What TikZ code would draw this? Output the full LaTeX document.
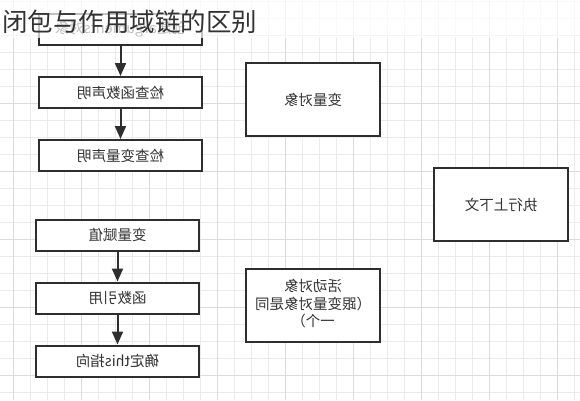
\documentclass[tikz,border=0pt]{standalone}
\usepackage{fontspec}
\usepackage{graphicx}
\usepackage{tikz}
\usetikzlibrary{positioning,arrows.meta}

\newfontfamily\cjk{Noto Sans CJK SC}
\newcommand{\flip}[1]{\reflectbox{#1}}
\definecolor{boxline}{HTML}{2E2E2E}
\definecolor{boxtext}{HTML}{333333}
\definecolor{gridminor}{HTML}{EBEBEB}
\definecolor{gridmajor}{HTML}{DCDCDC}

\begin{document}
\begin{tikzpicture}[
        x=1pt,y=-1pt,
        proc/.style={
          draw=boxline,
          line width=2pt,
          fill=white,
          minimum width=163pt,
          minimum height=31pt,
          inner sep=0pt,
          text=boxtext,
          font=\cjk\fontsize{14.5}{17.5}\selectfont
          },
        obj/.style={
          proc,
          minimum width=134pt,
          minimum height=73pt
          },
        minorline/.style={
          draw=gridminor,
          line width=0.8pt
          },
        majorline/.style={
          draw=gridmajor,
          line width=0.8pt
          },
        node distance=30pt,
        >={Triangle[length=13pt,width=11pt]}
        ]
        \useasboundingbox (0,0) rectangle (580,400);
        % background grid
        \foreach \gx in {13.7,30.7,...,580}
          \draw[minorline] (\gx,0) -- (\gx,400);
        \foreach \gy in {1.5,18.5,...,400}
          \draw[minorline] (0,\gy) -- (580,\gy);
        \foreach \gx in {13.7,81.7,...,580}
          \draw[majorline] (\gx,0) -- (\gx,400);
        \foreach \gy in {35.5,103.5,...,400}
          \draw[majorline] (0,\gy) -- (580,\gy);
        % left column
        \node[proc] (args) at (120.5,29.5) {\flip{创建arguments对象}};
        \node[proc, below=of args] (fundecl) {\flip{检查函数声明}};
        \node[proc, below=of fundecl] (vardecl) {\flip{检查变量声明}};
        \node[proc] (assign) at (117.5,235) {\flip{变量赋值}};
        \node[proc, below=of assign] (funref) {\flip{函数引用}};
        \node[proc, below=of funref] (thisref) {\flip{确定this指向}};
        \foreach \a/\b in {args/fundecl,fundecl/vardecl,assign/funref,funref/thisref}
          \draw[->, draw=boxline, line width=2pt] (\a) -- (\b);
        % objects and context
        \node[obj] (varobj) at (313,99.5) {\flip{变量对象}};
        \node[obj] (ctx) at (501,204.5) {\flip{执行上下文}};
        \node[obj] (actobj) at (313,305.5)
          {\flip{\begin{tabular}{@{}c@{}}活动对象\\（跟变量对象是同\\一个）\end{tabular}}};
        % title over a light band
        \fill[white, opacity=0.7] (0,0) rectangle (580,38);
        \node[anchor=west, inner sep=0pt, text=boxtext,
          font=\cjk\fontsize{25.5}{30}\selectfont] (title) at (2,21.5) {闭包与作用域链的区别};
    \end{tikzpicture}
\end{document}
